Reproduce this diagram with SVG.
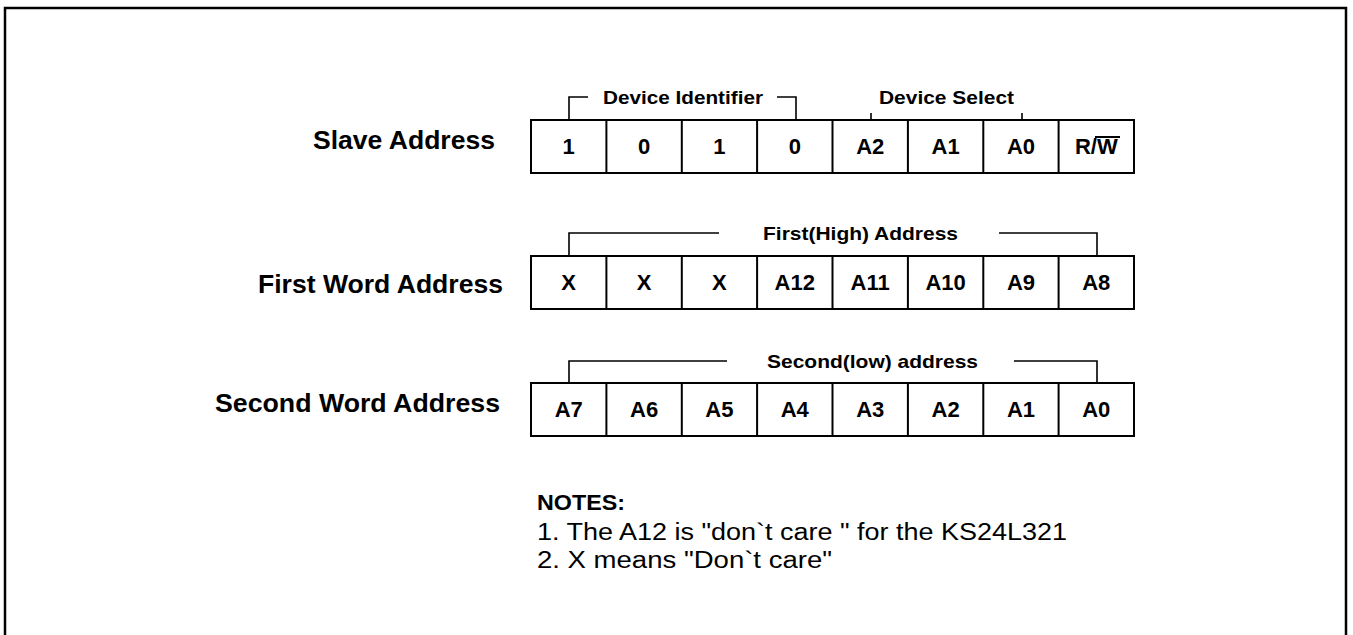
<svg xmlns="http://www.w3.org/2000/svg" width="1353" height="635" viewBox="0 0 1353 635">
  <style>
    .frame { fill: none; stroke: #000; stroke-width: 2.5; }
    .cell { fill: #fff; stroke: #000; stroke-width: 2; }
    .brk { fill: none; stroke: #000; stroke-width: 1.6; }
    .row { font-family: "Liberation Sans", Arial, sans-serif; font-weight: bold; font-size: 25px; fill: #000; }
    .bit { font-family: "Liberation Sans", Arial, sans-serif; font-weight: bold; font-size: 22px; fill: #000; text-anchor: middle; }
    .grp { font-family: "Liberation Sans", Arial, sans-serif; font-weight: bold; font-size: 19px; fill: #000; }
    .note { font-family: "Liberation Sans", Arial, sans-serif; font-size: 23px; fill: #000; }
    .noteh { font-family: "Liberation Sans", Arial, sans-serif; font-weight: bold; font-size: 22px; fill: #000; }
  </style>
  <rect width="1353" height="635" fill="#fff"/>
  <!-- outer frame, open at the bottom edge -->
  <path class="frame" d="M5,645 V8 H1346 V645"/>

  <!-- Slave address byte -->
  <g id="slave-address">
    <text class="row" x="313" y="149" textLength="182" lengthAdjust="spacingAndGlyphs">Slave Address</text>
    <rect class="cell" x="531" y="120" width="603" height="53"/>
    <path class="cell" d="M606.4,120 V173 M681.8,120 V173 M757.1,120 V173 M832.5,120 V173 M907.9,120 V173 M983.3,120 V173 M1058.6,120 V173"/>
    <text class="bit" x="568.7" y="154">1</text>
    <text class="bit" x="644.1" y="154">0</text>
    <text class="bit" x="719.4" y="154">1</text>
    <text class="bit" x="794.8" y="154">0</text>
    <text class="bit" x="870.2" y="154">A2</text>
    <text class="bit" x="945.6" y="154">A1</text>
    <text class="bit" x="1021" y="154">A0</text>
    <text class="bit" x="1096.3" y="154">R/W</text>
    <line x1="1095" y1="137" x2="1120" y2="137" stroke="#000" stroke-width="2"/>
  </g>

  <!-- First word address byte -->
  <g id="first-word-address">
    <text class="row" x="258" y="293" textLength="245" lengthAdjust="spacingAndGlyphs">First Word Address</text>
    <rect class="cell" x="531" y="256" width="603" height="53"/>
    <path class="cell" d="M606.4,256 V309 M681.8,256 V309 M757.1,256 V309 M832.5,256 V309 M907.9,256 V309 M983.3,256 V309 M1058.6,256 V309"/>
    <text class="bit" x="568.7" y="290">X</text>
    <text class="bit" x="644.1" y="290">X</text>
    <text class="bit" x="719.4" y="290">X</text>
    <text class="bit" x="794.8" y="290">A12</text>
    <text class="bit" x="870.2" y="290">A11</text>
    <text class="bit" x="945.6" y="290">A10</text>
    <text class="bit" x="1021" y="290">A9</text>
    <text class="bit" x="1096.3" y="290">A8</text>
  </g>

  <!-- Second word address byte -->
  <g id="second-word-address">
    <text class="row" x="215" y="412" textLength="285" lengthAdjust="spacingAndGlyphs">Second Word Address</text>
    <rect class="cell" x="531" y="383" width="603" height="53"/>
    <path class="cell" d="M606.4,383 V436 M681.8,383 V436 M757.1,383 V436 M832.5,383 V436 M907.9,383 V436 M983.3,383 V436 M1058.6,383 V436"/>
    <text class="bit" x="568.7" y="417">A7</text>
    <text class="bit" x="644.1" y="417">A6</text>
    <text class="bit" x="719.4" y="417">A5</text>
    <text class="bit" x="794.8" y="417">A4</text>
    <text class="bit" x="870.2" y="417">A3</text>
    <text class="bit" x="945.6" y="417">A2</text>
    <text class="bit" x="1021" y="417">A1</text>
    <text class="bit" x="1096.3" y="417">A0</text>
  </g>

  <!-- field brackets over the bytes -->
  <g id="connectors">
    <path class="brk" d="M569,120 V97 H588 M777,97 H796 V120"/>
    <path class="brk" d="M871,113 V120 M1022,113 V120"/>
    <path class="brk" d="M569,256 V233 H719 M999,233 H1097 V256"/>
    <path class="brk" d="M569,383 V361 H727 M1014,361 H1097 V383"/>
  </g>

  <g id="field-labels">
    <text class="grp" x="603" y="104" textLength="160" lengthAdjust="spacingAndGlyphs">Device Identifier</text>
    <text class="grp" x="879" y="104" textLength="135" lengthAdjust="spacingAndGlyphs">Device Select</text>
    <text class="grp" x="763" y="240" textLength="195" lengthAdjust="spacingAndGlyphs">First(High) Address</text>
    <text class="grp" x="767" y="368" textLength="211" lengthAdjust="spacingAndGlyphs">Second(low) address</text>
  </g>

  <g id="notes">
    <text class="noteh" x="537" y="510" textLength="88" lengthAdjust="spacingAndGlyphs">NOTES:</text>
    <text class="note" x="537" y="540" textLength="530" lengthAdjust="spacingAndGlyphs">1. The A12 is "don`t care " for the KS24L321</text>
    <text class="note" x="537" y="568" textLength="295" lengthAdjust="spacingAndGlyphs">2. X means "Don`t care"</text>
  </g>
</svg>
